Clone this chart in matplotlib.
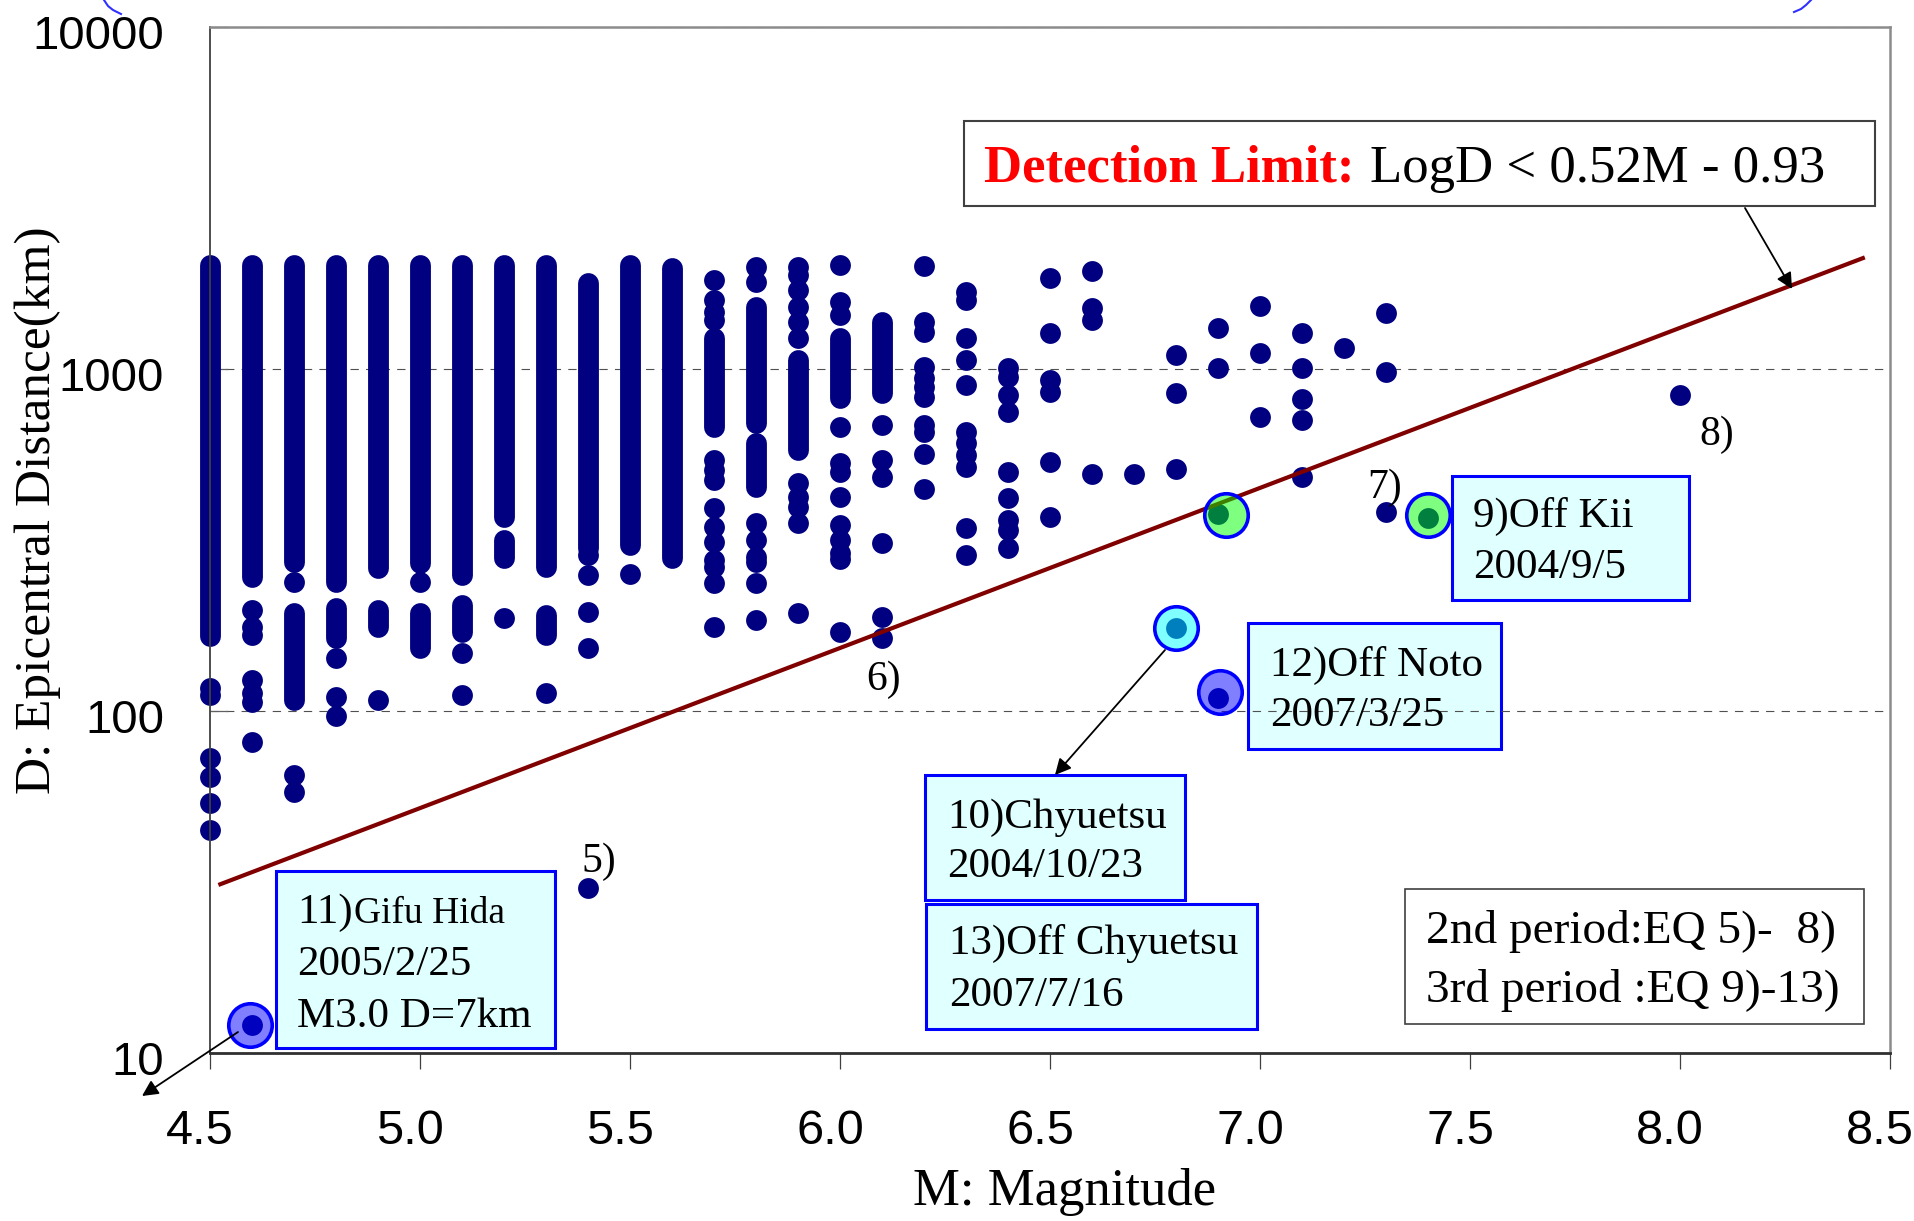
import numpy as np
import matplotlib
matplotlib.use('Agg')
import matplotlib.pyplot as plt
from matplotlib.patches import Rectangle
from matplotlib.lines import Line2D
from matplotlib.transforms import ScaledTranslation

SERIF = 'Liberation Serif'
SANS = 'Liberation Sans'

# continuous runs of events in one magnitude column: M, lowest D, highest D (km)
band_m = [4.5, 4.6, 4.7, 4.7, 4.8, 4.8, 4.9, 4.9, 5.0, 5.0, 5.1, 5.1, 5.2,
          5.2, 5.3, 5.3, 5.4, 5.5, 5.6, 5.7, 5.8, 5.8, 5.9, 6.0, 6.1]
band_lo = [166, 247, 273, 108, 238, 164, 262, 176, 270, 153, 250, 170, 370,
           280, 264, 167, 300, 305, 280, 676, 695, 452, 580, 822, 851]
band_hi = [2010, 2010, 2010, 194, 2010, 200, 2010, 197, 2010, 194, 2010, 204, 2010,
           316, 2010, 191, 1780, 2010, 1970, 1232, 1517, 608, 1062, 1232, 1372]

# single events
event_m = ([4.5] * 6 + [4.6] * 8 + [4.7] * 3 + [4.8] * 3 + [4.9] + [5.0] + [5.1] * 2
           + [5.2] + [5.3] + [5.4] * 5 + [5.5] + [5.7] * 14 + [5.8] * 8 + [5.9] * 11
           + [6.0] * 12 + [6.1] * 6 + [6.2] * 11 + [6.3] * 11 + [6.4] * 9 + [6.5] * 6
           + [6.6] * 4 + [6.7] + [6.8] * 4 + [6.9] * 4 + [7.0] * 3 + [7.1] * 5 + [7.2]
           + [7.3] * 3 + [7.4] + [8.0])
event_d = [117, 111, 73, 64, 54, 45,
           197, 176, 167, 123, 113, 106, 81, 12.1,
           238, 65, 58,
           143, 110, 97,
           108,
           238,
           148, 111,
           187,
           113,
           286, 250, 195, 153, 30.4,
           252,
           1820, 1591, 1467, 1390, 542, 505, 473, 393, 345, 312, 276, 264, 237, 176,
           1986, 1795, 355, 316, 282, 273, 237, 185,
           1986, 1884, 1703, 1517, 1372, 1232, 464, 423, 394, 355, 194,
           2014, 1570, 1440, 676, 531, 500, 423, 350, 316, 290, 278, 170,
           686, 542, 483, 310, 188, 164,
           2000, 1372, 1283, 1013, 942, 885, 828, 686, 654, 564, 446,
           1679, 1591, 1232, 1062, 898, 654, 608, 561, 517, 343, 286,
           1007, 948, 839, 748, 500, 420, 362, 338, 300,
           1845, 1274, 929, 857, 535, 369,
           1935, 1507, 1390, 493,
           493,
           1099, 851, 510, 175,
           1318, 1007, 377, 109,
           1528, 1113, 724,
           1274, 1007, 817, 710, 483,
           1152,
           1459, 980, 382,
           366,
           839]

# 3rd period events, highlighted
hl_m = [6.92, 7.40, 6.80, 6.905, 4.595]
hl_d = [374, 374, 175, 114, 12.1]
hl_color = ['#00ff00', '#00ff00', '#00ffff', '#0000ff', '#0000ff']

# 2nd period event labels
lab_text = ['5)', '6)', '7)', '8)']
lab_m = [5.4, 6.1, 7.3, 8.0]
lab_d = [30.4, 164, 382, 839]
lab_off = [(-7, 16), (-16, -52), (-19, 14), (19, -50)]

# detection limit line as drawn
line_m = [4.52, 8.44]
line_d = [31.0, 2120]

xticks = [4.5, 5.0, 5.5, 6.0, 6.5, 7.0, 7.5, 8.0, 8.5]
yticks = [10, 100, 1000, 10000]

W, H = 1915, 1221
fig = plt.figure(figsize=(W / 100, H / 100), dpi=100)
ax = fig.add_axes([210 / W, (H - 1053) / H, 1680 / W, 1026 / H])


def fx(x):
    return (x - 210) / 1680.0


def fy(y):
    return (1053 - y) / 1026.0


ax.set_yscale('log')
ax.set_xlim(4.5, 8.5)
ax.set_ylim(10, 10000)

ax.grid(axis='y', color='#505050', lw=0.8, linestyle=(0, (7.5, 6.5)))
ax.set_axisbelow(True)

navy = '#000080'
ax.vlines(band_m, band_lo, band_hi, colors=navy, linewidth=15,
          capstyle='round', zorder=2, clip_on=False)
ax.scatter(event_m, event_d, s=225, color=navy, linewidths=0, zorder=2,
           clip_on=False)

ax.plot(line_m, line_d, color='#800000', lw=3.0, zorder=3, solid_capstyle='butt')

for m, d, c in zip(hl_m, hl_d, hl_color):
    ax.scatter([m], [d], s=980, facecolor=matplotlib.colors.to_rgba(c, 0.5),
               edgecolor='#0000ff', linewidths=2.6, zorder=4, clip_on=False)

for t, m, d, off in zip(lab_text, lab_m, lab_d, lab_off):
    ax.annotate(t, (m, d), xytext=off, textcoords='offset pixels',
                fontsize=30, family=SERIF, va='baseline', ha='left', zorder=6)

# boxes (image pixel coords: x0, y0, x1, y1)
def box(x0, y0, x1, y1, fc, ec, lw):
    ax.add_patch(Rectangle((fx(x0), fy(y1)), fx(x1) - fx(x0), fy(y0) - fy(y1),
                           transform=ax.transAxes, facecolor=fc, edgecolor=ec,
                           lw=lw, zorder=0.2, clip_on=False))


def txt(x, y, s, size=31, **kw):
    ax.text(fx(x), fy(y), s, transform=ax.transAxes, fontsize=size,
            family=SERIF, va='baseline', ha='left', zorder=6, clip_on=False, **kw)


cyan = '#e0ffff'
box(1452, 476, 1689, 600, cyan, '#0000ff', 2.2)
txt(1473, 527, '9)Off Kii')
txt(1473, 578, '2004/9/5')

box(1248, 623, 1501, 749, cyan, '#0000ff', 2.2)
txt(1270, 676, '12)Off Noto')
txt(1270, 726, '2007/3/25')

box(925, 775, 1185, 900, cyan, '#0000ff', 2.2)
txt(947, 828, '10)Chyuetsu')
txt(947, 877, '2004/10/23')

box(926, 904, 1257, 1029, cyan, '#0000ff', 2.2)
txt(949, 954, '13)Off Chyuetsu')
txt(949, 1006, '2007/7/16')

box(276, 871, 555, 1048, cyan, '#0000ff', 2.2)
txt(297, 923, '11)')
txt(354, 923, 'Gifu Hida', size=27)
txt(297, 975, '2005/2/25')
txt(297, 1027, 'M3.0 D=7km')

box(1405, 889, 1864, 1024, 'white', '#404040', 1.2)
txt(1426, 943, '2nd period:EQ 5)-  8)', size=34)
txt(1426, 1002, '3rd period :EQ 9)-13)', size=34)

box(964, 121, 1875, 206, 'white', '#404040', 1.5)
txt(984, 182, 'Detection Limit:', size=38, color='#ff0000', weight='bold')
txt(1370, 182, 'LogD < 0.52M - 0.93', size=38)

# arrows (tail -> head, image pixels)
for (x0, y0), (x1, y1) in [((1745, 208), (1792, 289)),
                           ((1165, 650), (1055, 775)),
                           ((238, 1032), (142, 1096))]:
    ax.annotate('', xy=(fx(x1), fy(y1)), xytext=(fx(x0), fy(y0)),
                xycoords='axes fraction', textcoords='axes fraction',
                arrowprops=dict(arrowstyle='-|>', color='k', lw=1.3,
                                mutation_scale=24, shrinkA=0, shrinkB=0),
                annotation_clip=False, zorder=7)

# axes styling
ax.spines['left'].set_color('#404040')
ax.spines['left'].set_linewidth(1.3)
ax.spines['bottom'].set_color('#303030')
ax.spines['bottom'].set_linewidth(2.0)
for s in ['top', 'right']:
    ax.spines[s].set_color('#8c8c8c')
    ax.spines[s].set_linewidth(1.8)

ax.set_xticks(xticks)
ax.set_xticklabels(['%.1f' % v for v in xticks])
ax.set_yticks(yticks)
ax.set_yticklabels([str(v) for v in yticks])
ax.minorticks_off()
ax.tick_params(axis='x', direction='out', length=11.5, width=0.9,
               color='#404040', pad=29, labelsize=35)
ax.tick_params(axis='y', direction='in', length=13, width=0.9,
               color='#606060', pad=33, labelsize=34)
for lab in ax.get_xticklabels() + ax.get_yticklabels():
    lab.set_family(SANS)
shift = ScaledTranslation(-10 / 100, 0, fig.dpi_scale_trans)
for lab in ax.get_xticklabels():
    lab.set_transform(lab.get_transform() + shift)
yshift = ScaledTranslation(0, -5 / 100, fig.dpi_scale_trans)
for lab in ax.get_yticklabels():
    lab.set_transform(lab.get_transform() + yshift)

fig.text(1065 / W, 1 - 1192 / H, 'M: Magnitude', fontsize=38, family=SERIF,
         ha='center', va='center')
fig.text(38 / W, 1 - 510 / H, 'D: Epicentral Distance(km)', fontsize=37,
         family=SERIF, rotation=90, ha='center', va='center')

# bits of blue outline cut by the top edge
fig.add_artist(Line2D(np.array([104, 108, 113, 121]) / W,
                      1 - np.array([0, 6, 10, 14]) / H, color='#3030ff', lw=1.5))
fig.add_artist(Line2D(np.array([1811, 1806, 1801, 1794]) / W,
                      1 - np.array([0, 5, 9, 12]) / H, color='#3030ff', lw=1.5))

fig.savefig('out.png', dpi=100)
